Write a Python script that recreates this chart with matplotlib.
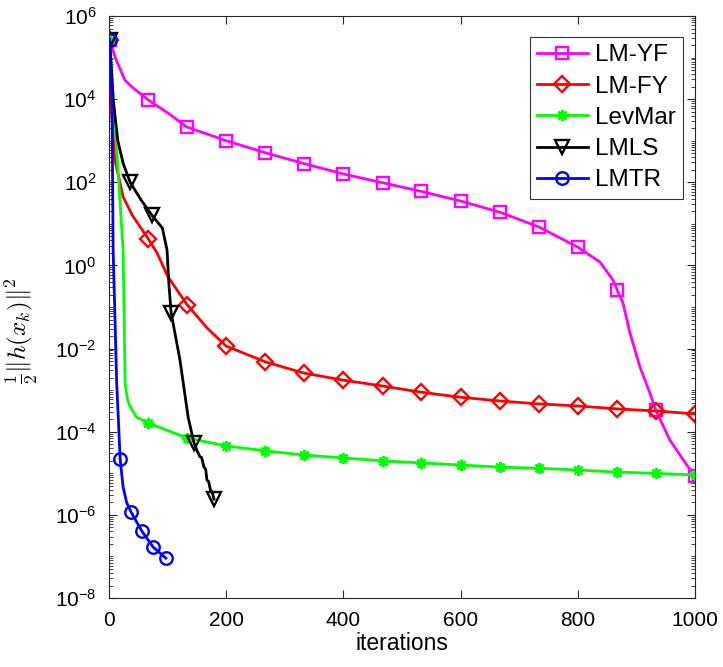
import numpy as np
import matplotlib
matplotlib.use("Agg")
import matplotlib.pyplot as plt
from matplotlib.ticker import LogLocator, FixedLocator, NullFormatter

plt.rcParams['font.family'] = ['Liberation Sans', 'DejaVu Sans']
plt.rcParams['mathtext.fontset'] = 'cm'

# values (y given as log10)
yf_x = [1, 4, 12, 27, 41, 67, 100, 133, 200, 267, 333, 400, 467, 533, 600, 667,
        733, 800, 838, 860, 867, 877, 889, 906, 923, 933, 957, 980, 1000]
yf_log = [5.43, 5.3, 4.95, 4.46, 4.27, 3.98, 3.67, 3.33, 3.0, 2.71, 2.45, 2.2, 1.99,
          1.78, 1.55, 1.28, 0.93, 0.44, 0.08, -0.35, -0.59, -0.9, -1.63,
          -2.44, -3.07, -3.48, -4.2, -4.68, -5.07]
yf_marks = [0, 5, 7, 8, 9, 10, 11, 12, 13, 14, 15, 16, 17, 20, 25, 28]

fy_x = [1, 4, 10, 24, 40, 67, 82, 100, 133, 167, 200, 267, 333, 400, 467,
        533, 600, 667, 733, 800, 867, 933, 1000]
fy_log = [5.43, 3.8, 2.54, 1.65, 1.2, 0.64, 0.3, -0.26, -0.94, -1.5, -1.94,
          -2.32, -2.59, -2.76, -2.9, -3.05, -3.17, -3.26, -3.33, -3.38, -3.45,
          -3.5, -3.57]
fy_marks = [0, 5, 8, 10, 11, 12, 13, 14, 15, 16, 17, 18, 19, 20, 21, 22]

lev_x = [1, 24, 26, 27.5, 31, 36, 47, 67, 133, 200, 267, 333, 400, 467, 533,
         600, 667, 733, 800, 867, 933, 1000]
lev_log = [5.43, 0.37, -1.5, -2.83, -3.2, -3.4, -3.65, -3.79, -4.15, -4.34,
           -4.46, -4.56, -4.63, -4.7, -4.75, -4.8, -4.85, -4.88, -4.92, -4.97,
           -5.0, -5.04]
lev_marks = [0] + list(range(7, 22))

ls_x = [1, 7, 15, 24, 36, 55, 73, 91, 99, 102, 106, 121, 135, 145, 150, 155,
        158, 162, 165, 167, 170, 173, 176, 179]
ls_log = [5.43, 4.0, 3.0, 2.46, 2.0, 1.57, 1.21, 0.9, 0.37, -0.42, -1.14,
          -2.27, -3.65, -4.27, -4.45, -4.6, -4.62, -4.85, -4.9, -5.16, -5.2,
          -5.4, -5.45, -5.62]
ls_marks = [0, 4, 6, 10, 13, 23]

tr_x = [1, 5, 7, 13, 19, 24, 30, 37.5, 56, 75, 97]
tr_log = [5.43, 4.0, 0.37, -2.8, -4.66, -5.33, -5.7, -5.93, -6.39, -6.77, -7.04]
tr_marks = [0, 4, 7, 8, 9, 10]

fig = plt.figure(figsize=(7.23, 6.67), dpi=100)
ax = fig.add_axes([0.1508, 0.1034, 0.8105, 0.8726])

series = [
    ("LM-YF", yf_x, yf_log, yf_marks, (1, 0, 1), 's', 8),
    ("LM-FY", fy_x, fy_log, fy_marks, (1, 0, 0), 'D', 8.5),
    ("LevMar", lev_x, lev_log, lev_marks, (0, 1, 0), (8, 2, 0), 8),
    ("LMLS", ls_x, ls_log, ls_marks, (0, 0, 0), 'v', 10.5),
    ("LMTR", tr_x, tr_log, tr_marks, (0, 0, 1), 'o', 9),
]
for name, xs, ls, mk, col, m, ms in series:
    ax.semilogy(xs, 10.0 ** np.array(ls), color=col, lw=2, marker=m, ms=ms,
                mfc='none', mec=col, mew=1.7, markevery=mk, label=name)

ax.set_xlim(0, 1000)
ax.set_ylim(1e-8, 1e6)
ax.xaxis.set_major_locator(FixedLocator([0, 200, 400, 600, 800, 1000]))
ax.yaxis.set_major_locator(FixedLocator([10.0 ** k for k in range(-8, 7, 2)]))
ax.yaxis.set_minor_locator(LogLocator(base=10, subs=np.arange(1, 10), numticks=100))
ax.yaxis.set_minor_formatter(NullFormatter())

dark = (0.15, 0.15, 0.15)
for sp in ax.spines.values():
    sp.set_color(dark)
    sp.set_linewidth(0.8)
ax.tick_params(which='both', direction='in', top=True, right=True,
               colors=dark, labelsize=15, labelcolor='black')
ax.tick_params(which='major', length=6)
ax.tick_params(which='minor', length=3)
ax.tick_params(axis='x', pad=9)
ax.tick_params(axis='y', pad=9)

ax.set_xlabel('iterations', fontsize=16.5, labelpad=2)
ax.set_ylabel(r'$\frac{1}{2}\|h(x_k)\|^2$', fontsize=18, labelpad=0)
ax.yaxis.set_label_coords(-0.118, 0.46)

leg = ax.legend(loc='upper right', bbox_to_anchor=(0.98, 0.964), borderaxespad=0,
                fontsize=17.5, frameon=True, fancybox=False, edgecolor='black',
                handlelength=2.1, labelspacing=0.38, borderpad=0.3,
                handletextpad=0.3)
leg.get_frame().set_linewidth(0.8)

fig.savefig('out.png', dpi=100)
